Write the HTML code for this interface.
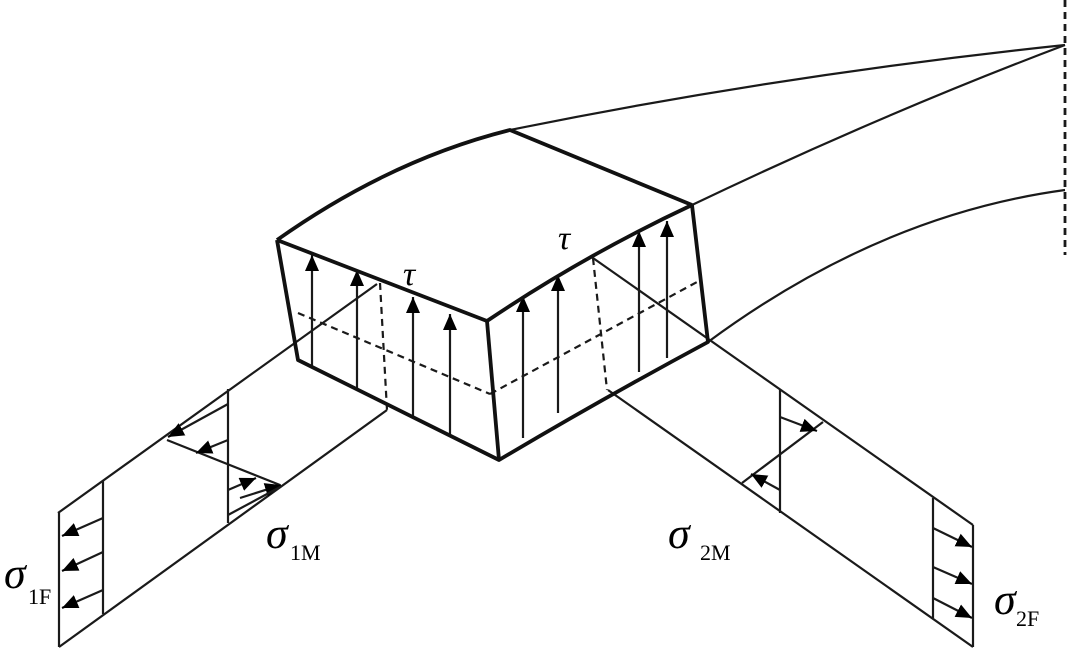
<!DOCTYPE html>
<html><head><meta charset="utf-8"><style>
html,body{margin:0;padding:0;background:#fff;}
svg{display:block}
text{font-family:"Liberation Serif",serif;font-style:italic;fill:#000}
.s{font-style:normal}
</style></head><body>
<svg width="1080" height="663" viewBox="0 0 1080 663" xmlns="http://www.w3.org/2000/svg">
<defs>
<marker id="a" markerUnits="userSpaceOnUse" markerWidth="18" markerHeight="16" refX="16" refY="7" orient="auto">
<path d="M0,0 L16,7 L0,14 Z" fill="#000"/>
</marker>
</defs>
<g fill="none" stroke="#1a1a1a" stroke-width="2.2">
<path d="M510,130 Q780,75 1065,45"/>
<path d="M692,205 Q880,115 1065,45"/>
<path d="M708,342 Q880,215 1065,190"/>
<line x1="1065" y1="0" x2="1065" y2="255" stroke-dasharray="7,5" stroke-width="2.8"/>
<line x1="377" y1="284" x2="58" y2="513"/>
<line x1="387" y1="410" x2="59" y2="647"/>
<line x1="59" y1="513" x2="59" y2="647"/>
<line x1="103" y1="481" x2="103" y2="614"/>
<line x1="103" y1="518" x2="62" y2="536" marker-end="url(#a)"/>
<line x1="103" y1="552" x2="62" y2="571" marker-end="url(#a)"/>
<line x1="103" y1="590" x2="62" y2="608" marker-end="url(#a)"/>
<line x1="228" y1="389" x2="228" y2="523"/>
<line x1="167" y1="440" x2="280" y2="485"/>
<line x1="228" y1="404" x2="168" y2="437" marker-end="url(#a)"/>
<line x1="228" y1="440" x2="196" y2="453" marker-end="url(#a)"/>
<line x1="228" y1="490" x2="256" y2="478" marker-end="url(#a)"/>
<line x1="240" y1="498" x2="281" y2="485" marker-end="url(#a)"/>
<line x1="228" y1="515" x2="280" y2="487"/>
<line x1="593" y1="258" x2="973" y2="525"/>
<line x1="608" y1="390" x2="973" y2="647"/>
<line x1="973" y1="525" x2="973" y2="647"/>
<line x1="933" y1="498" x2="933" y2="618"/>
<line x1="933" y1="528" x2="972" y2="547" marker-end="url(#a)"/>
<line x1="933" y1="567" x2="972" y2="584" marker-end="url(#a)"/>
<line x1="933" y1="598" x2="972" y2="618" marker-end="url(#a)"/>
<line x1="780" y1="390" x2="780" y2="513"/>
<line x1="742" y1="483" x2="823" y2="422"/>
<line x1="780" y1="417" x2="817" y2="431" marker-end="url(#a)"/>
<line x1="780" y1="490" x2="751" y2="474" marker-end="url(#a)"/>
<g stroke-dasharray="7,5">
<line x1="298" y1="313" x2="490" y2="394"/>
<line x1="490" y1="394" x2="697" y2="282"/>
<line x1="380" y1="283" x2="387" y2="410"/>
<line x1="593" y1="258" x2="607" y2="390"/>
</g>
<line x1="312" y1="367" x2="312" y2="255" marker-end="url(#a)"/>
<line x1="357" y1="389" x2="357" y2="270" marker-end="url(#a)"/>
<line x1="413" y1="417" x2="413" y2="297" marker-end="url(#a)"/>
<line x1="450" y1="436" x2="450" y2="314" marker-end="url(#a)"/>
<line x1="523" y1="438" x2="523" y2="296" marker-end="url(#a)"/>
<line x1="558" y1="413" x2="558" y2="275" marker-end="url(#a)"/>
<line x1="639" y1="372" x2="639" y2="231" marker-end="url(#a)"/>
<line x1="667" y1="358" x2="667" y2="221" marker-end="url(#a)"/>
</g>
<g fill="none" stroke="#111" stroke-width="3.8" stroke-linejoin="round">
<path d="M277,240 Q390,160 510,130 L692,205"/>
<path d="M277,240 L487,321 Q585,255 692,205"/>
<path d="M277,240 L298,360 L499,460 Q600,400 708,342 L692,205"/>
<path d="M487,321 L499,460"/>
</g>
<text x="403" y="285" font-size="34">τ</text>
<text x="558" y="249" font-size="34">τ</text>
<text x="4" y="588" font-size="44">σ</text><text class="s" x="28" y="604" font-size="22">1F</text>
<text x="266" y="548" font-size="44">σ</text><text class="s" x="290" y="560" font-size="22">1M</text>
<text x="668" y="548" font-size="44">σ</text><text class="s" x="700" y="560" font-size="22">2M</text>
<text x="994" y="614" font-size="44">σ</text><text class="s" x="1016" y="626" font-size="22">2F</text>
</svg>
</body></html>
